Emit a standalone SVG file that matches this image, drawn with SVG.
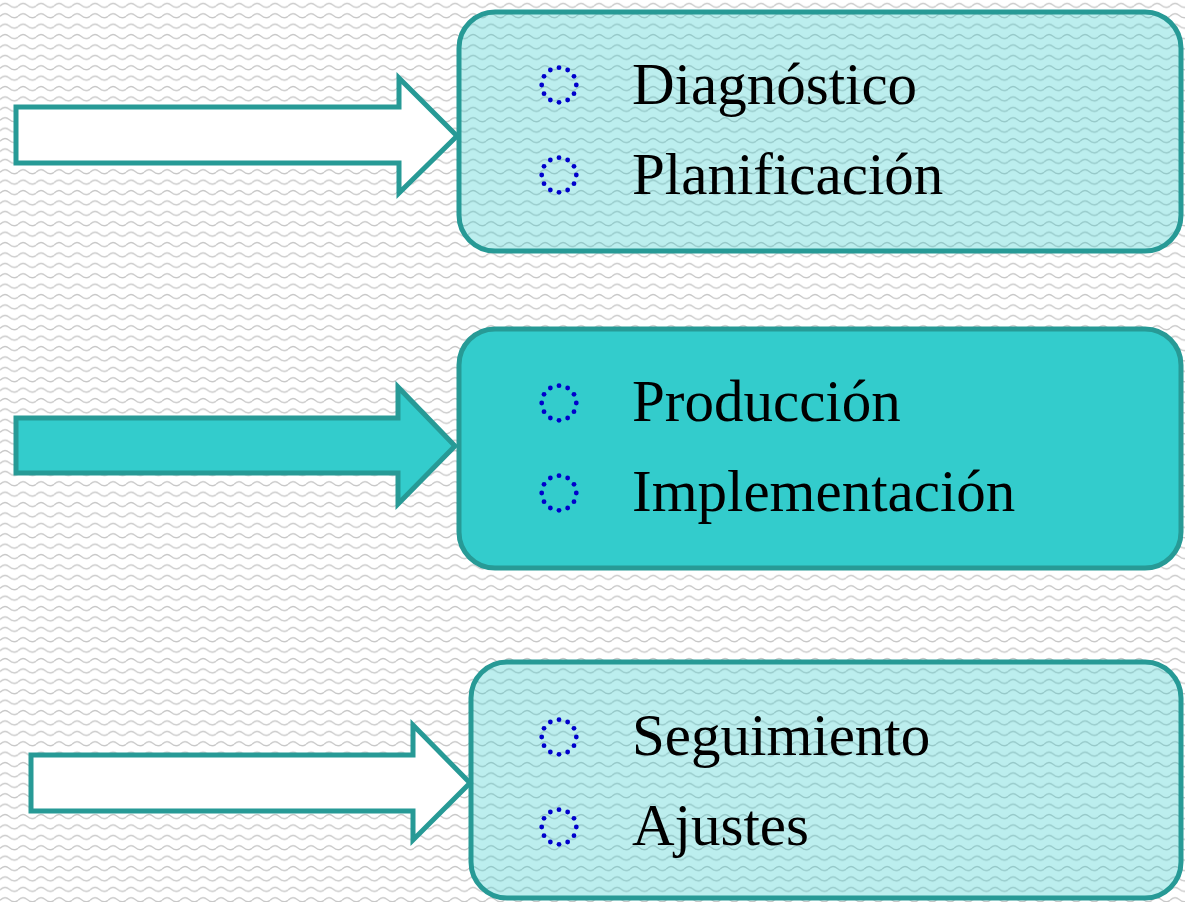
<svg xmlns="http://www.w3.org/2000/svg" width="1185" height="902" viewBox="0 0 1185 902">
  <defs>
    <pattern id="waves" x="0" y="0" width="18" height="10.4" patternUnits="userSpaceOnUse">
      <path d="M0,6 Q4.5,1 9,5 T18,6" fill="none" stroke="#c8c8c8" stroke-width="1.3"/>
    </pattern>
    <g id="bullet" fill="#0000cc">
      <circle cx="17.3" cy="0" r="2.4"/>
      <circle cx="14.98" cy="8.65" r="2.4"/>
      <circle cx="8.65" cy="14.98" r="2.4"/>
      <circle cx="0" cy="17.3" r="2.4"/>
      <circle cx="-8.65" cy="14.98" r="2.4"/>
      <circle cx="-14.98" cy="8.65" r="2.4"/>
      <circle cx="-17.3" cy="0" r="2.4"/>
      <circle cx="-14.98" cy="-8.65" r="2.4"/>
      <circle cx="-8.65" cy="-14.98" r="2.4"/>
      <circle cx="0" cy="-17.3" r="2.4"/>
      <circle cx="8.65" cy="-14.98" r="2.4"/>
      <circle cx="14.98" cy="-8.65" r="2.4"/>
    </g>
  </defs>
  <style>
    .box { stroke: #279a96; stroke-width: 5; }
    .light { fill: #33cccc; fill-opacity: 0.33; }
    .solid { fill: #33cccc; }
    .arrow { stroke: #279a96; stroke-width: 5; stroke-linejoin: miter; }
    .label { font-family: "Liberation Serif", "Times New Roman", serif; font-size: 59px; fill: #000; }
  </style>
  <rect x="0" y="0" width="1185" height="902" fill="#ffffff"/>
  <rect x="0" y="0" width="1185" height="902" fill="url(#waves)"/>

  <g id="connectors">
    <polygon class="arrow" fill="#ffffff" points="16,107 399,107 399,78 457,136 399,193 399,163 16,163"/>
    <polygon class="arrow solid" points="16,418 398,418 398,387 455,446 398,504 398,473 16,473"/>
    <polygon class="arrow" fill="#ffffff" points="31,755 413,755 413,725 470,783 413,840 413,811 31,811"/>
  </g>

  <g id="node-1">
    <rect class="box light" x="459" y="12" width="722" height="239" rx="36" ry="36"/>
    <use href="#bullet" x="559" y="85"/>
    <text class="label" x="632" y="104">Diagnóstico</text>
    <use href="#bullet" x="559" y="175"/>
    <text class="label" x="632" y="194">Planificación</text>
  </g>

  <g id="node-2">
    <rect class="box solid" x="459" y="329" width="722" height="239" rx="36" ry="36"/>
    <use href="#bullet" x="559" y="403"/>
    <text class="label" x="632" y="421">Producción</text>
    <use href="#bullet" x="559" y="493"/>
    <text class="label" x="632" y="511">Implementación</text>
  </g>

  <g id="node-3">
    <rect class="box light" x="471" y="662" width="710" height="236" rx="36" ry="36"/>
    <use href="#bullet" x="559" y="737"/>
    <text class="label" x="632" y="755">Seguimiento</text>
    <use href="#bullet" x="559" y="827"/>
    <text class="label" x="632" y="845">Ajustes</text>
  </g>
</svg>
